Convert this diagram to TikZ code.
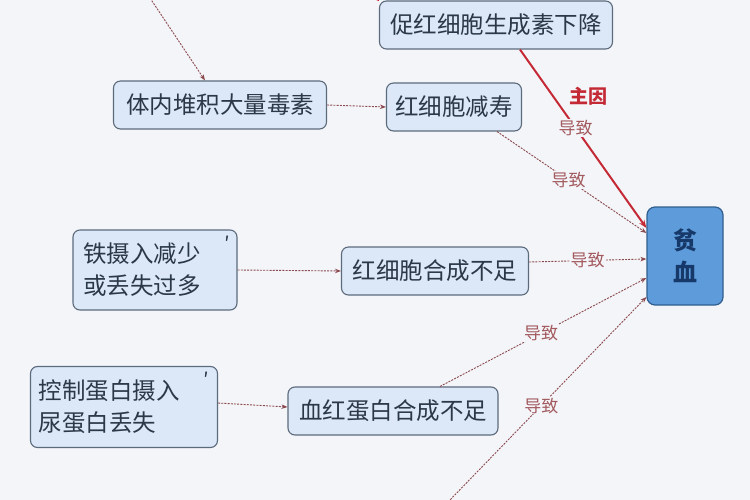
\documentclass[tikz,border=0pt]{standalone}
\usepackage{fontspec}
\setmainfont{Noto Sans CJK SC}
\usetikzlibrary{arrows.meta}
\definecolor{bg}{HTML}{F4F5F9}
\definecolor{boxfill}{HTML}{DCE8F8}
\definecolor{boxline}{HTML}{5C6B7C}
\definecolor{boxtext}{HTML}{2A3847}
\definecolor{pinfill}{HTML}{5E9BDA}
\definecolor{pinline}{HTML}{2F5F8F}
\definecolor{pintext}{HTML}{17396A}
\definecolor{conn}{HTML}{8A4A4E}
\definecolor{lbl}{HTML}{A25A5E}
\definecolor{mainred}{HTML}{C42A35}
\tikzset{
  cbox/.style={draw=boxline, line width=1.1pt, fill=boxfill, rounded corners=7pt,
    text=boxtext, font=\fontsize{23.5}{32}\selectfont, inner xsep=5pt, inner ysep=0pt,
    minimum height=48pt, align=left},
  pinbox/.style={draw=pinline, line width=1.2pt, fill=pinfill, rounded corners=8pt,
    text=pintext, font=\fontsize{24}{32}\selectfont\bfseries, minimum width=76pt,
    minimum height=98pt, align=center},
  dconn/.style={draw=conn, line width=0.9pt, dash pattern=on 2pt off 1.2pt,
    -{Stealth[length=6pt,width=4.5pt]}},
  mconn/.style={draw=mainred, line width=2pt, -{Stealth[length=8pt,width=6pt]}},
  lab/.style={fill=bg, text=lbl, font=\fontsize{17}{18}\selectfont, inner sep=1pt},
  prime/.style={text=boxtext, font=\fontsize{20}{20}\selectfont, inner sep=0pt}
}
\begin{document}
\begin{tikzpicture}[x=1pt,y=-1pt]
\fill[bg] (0,0) rectangle (750,500);
\useasboundingbox (0,0) rectangle (750,500);

\node[cbox, minimum width=233pt] (epo) at (496,25) {促红细胞生成素下降};
\node[cbox, minimum width=213pt] (tox) at (220,105) {体内堆积大量毒素};
\node[cbox, minimum width=135pt] (life) at (454,107) {红细胞减寿};
\node[pinbox] (pin) at (685,256) {贫\\血};
\node[cbox, inner xsep=10pt, text width=144pt, minimum height=80pt] (iron) at (155,270) {铁摄入减少\\或丢失过多};
\node[prime] (p1) at (227,244) {′};
\node[cbox, minimum width=187pt] (rbc) at (435,271) {红细胞合成不足};
\node[cbox, inner xsep=8pt, text width=171pt, minimum height=81pt] (prot) at (124,407) {控制蛋白摄入\\尿蛋白丢失};
\node[prime] (p2) at (206,380) {′};
\node[cbox, minimum width=210pt] (hb) at (393,411) {血红蛋白合成不足};

\coordinate (topsrc) at (150,-2);
\coordinate (botsrc) at (448,502);
\coordinate (epoin) at (368,-4);

\draw[dconn] (topsrc) -- ([xshift=-15pt]tox.north);
\draw[draw=mainred, line width=1.2pt] (epoin) -- (epo.north west);
\draw[dconn] (tox.east) -- (life.west);
\draw[dconn] (iron.east) -- (rbc.west);
\draw[dconn] ([yshift=4pt]prot.east) -- ([yshift=4pt]hb.west);

\draw[mconn] ([xshift=24pt]epo.south) -- node[lab, pos=0.44] {导致} ([yshift=28pt]pin.west);
\node[text=mainred, font=\fontsize{19}{20}\selectfont\bfseries] (zy) at (588,96) {主因};
\draw[dconn] ([xshift=43pt]life.south) -- node[lab, pos=0.48] {导致} ([yshift=23pt]pin.west);
\draw[dconn] ([yshift=9pt]rbc.east) -- node[lab, pos=0.5] {导致} ([yshift=-3pt]pin.west);
\draw[dconn] ([xshift=47pt]hb.north) -- node[lab, pos=0.49] {导致} ([yshift=-22pt]pin.west);
\draw[dconn] (botsrc) -- node[lab, pos=0.47] {导致} ([yshift=-41pt]pin.west);
\end{tikzpicture}
\end{document}
